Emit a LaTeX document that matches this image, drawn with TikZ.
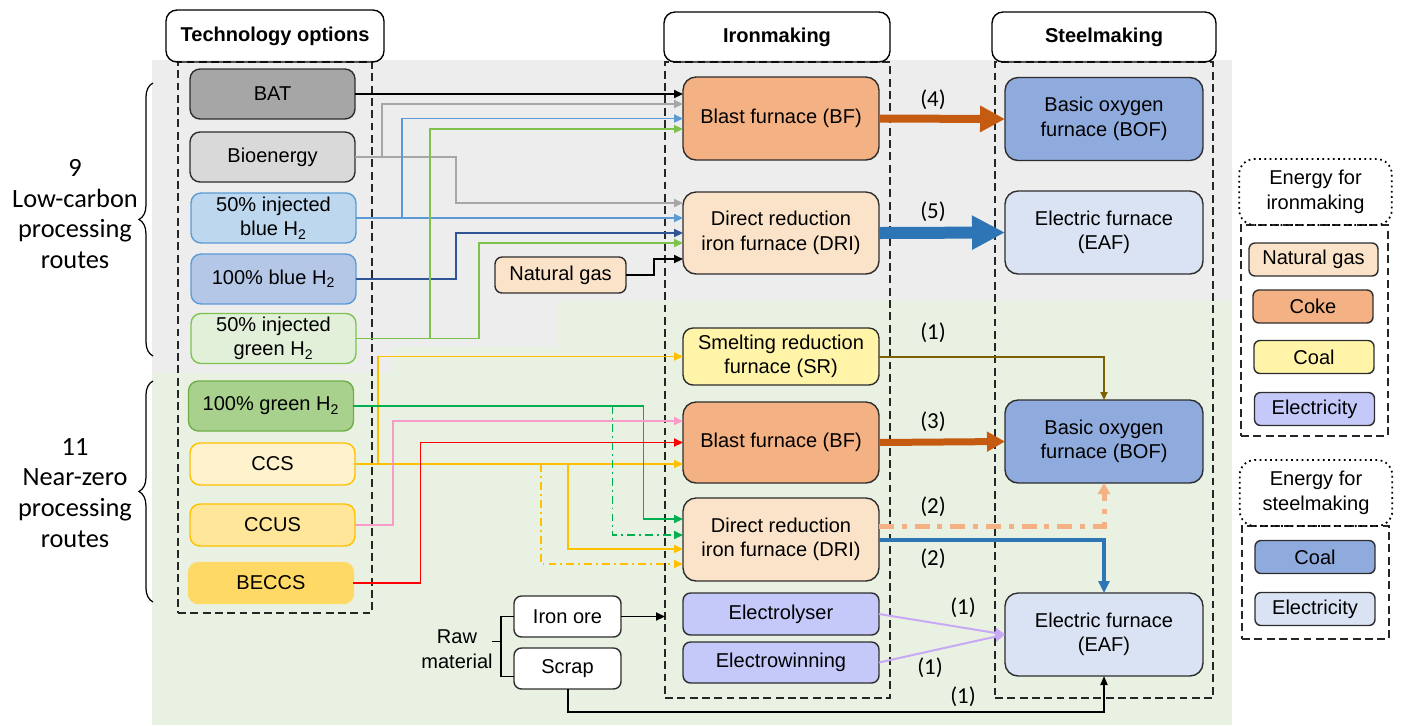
\documentclass[tikz,border=0pt]{standalone}
\usepackage{fontspec}
\setmainfont{Liberation Sans}
\newfontfamily\calib{Carlito}
\usetikzlibrary{calc,arrows.meta,decorations.pathreplacing}
\definecolor{bggray}{RGB}{237,237,237}
\definecolor{bggreen}{RGB}{233,242,226}
\definecolor{cedge}{RGB}{45,45,45}
\definecolor{cbat}{HTML}{A6A6A6}
\definecolor{cbio}{HTML}{D9D9D9}
\definecolor{cblu50}{HTML}{BDD7EE}
\definecolor{cblu100}{HTML}{B4C7E7}
\definecolor{cbluline}{HTML}{5B9BD5}
\definecolor{cgrn50}{HTML}{E2F0D9}
\definecolor{cgrnline}{RGB}{125,195,80}
\definecolor{cgrn100}{HTML}{A9D18E}
\definecolor{cgrnline2}{HTML}{70AD47}
\definecolor{cccs}{HTML}{FFF2CC}
\definecolor{cccus}{HTML}{FFE699}
\definecolor{cbeccs}{HTML}{FFD966}
\definecolor{cbf}{HTML}{F4B183}
\definecolor{cdri}{RGB}{250,227,200}
\definecolor{csr}{RGB}{255,244,168}
\definecolor{celec}{RGB}{196,201,250}
\definecolor{cbof}{HTML}{8FAADC}
\definecolor{ceaf}{HTML}{DAE3F3}
\definecolor{lgray}{HTML}{A6A6A6}
\definecolor{lblue}{HTML}{5B9BD5}
\definecolor{ldblue}{HTML}{2F5597}
\definecolor{lgreen}{RGB}{125,194,75}
\definecolor{lyel}{HTML}{FFC000}
\definecolor{lgrn}{HTML}{00B050}
\definecolor{lpink}{RGB}{249,155,200}
\definecolor{lred}{HTML}{FF0000}
\definecolor{lolive}{HTML}{7F6000}
\definecolor{llav}{RGB}{201,169,245}
\definecolor{abf}{HTML}{C55A11}
\definecolor{ablue}{HTML}{2E75B6}
\definecolor{aorange}{HTML}{F4B183}
\tikzset{
  box/.style={draw=cedge,line width=0.8pt,rounded corners=0.2cm,inner sep=0pt,outer sep=0pt,align=center,font=\fontsize{11.4}{14}\selectfont},
  tech/.style={box,minimum width=3.3cm,minimum height=1cm},
  iron/.style={box,rounded corners=0.26cm,minimum width=3.92cm},
  steel/.style={box,rounded corners=0.26cm,minimum width=3.96cm,minimum height=1.66cm},
  legbox/.style={box,rounded corners=0.12cm,minimum width=2.4cm,minimum height=0.66cm},
  head/.style={draw,line width=0.8pt,rounded corners=0.22cm,inner sep=0pt,minimum height=1cm,font=\bfseries\fontsize{11.4}{14}\selectfont},
  leghead/.style={draw,dotted,line width=1pt,rounded corners=0.3cm,inner sep=0pt,align=center,minimum width=3.05cm,minimum height=1.32cm,font=\fontsize{11.4}{14}\selectfont},
  col/.style={draw=black!85,dash pattern=on 4.5pt off 2.5pt,line width=0.7pt,inner sep=0pt,outer sep=0pt},
  link/.style={line width=1.1pt,-{Triangle[length=1.8mm,width=1.6mm]}},
  dashdot/.style={dash pattern=on 4.5pt off 2.3pt on 1.1pt off 2.3pt},
  num/.style={font=\calib\fontsize{13}{15}\selectfont,inner sep=0pt},
  route/.style={font=\calib\fontsize{15}{17.6}\selectfont,align=center,inner sep=0pt},
  routebrace/.style={decorate,decoration={brace,amplitude=8pt},line width=0.7pt},
}

\begin{document}
\begin{tikzpicture}[x=0.02cm,y=-0.02cm]
\useasboundingbox (0,0) rectangle (1401,725);
\fill[bggreen] (152,300) rectangle (1232,725);
\fill[bggray] (152,60) -- (1232,60) -- (1232,300) -- (558,300) -- (558,347) -- (392,347) -- (392,373) -- (152,373) -- cycle;

\node[col,minimum width=3.88cm,minimum height=11.02cm] (tcol) at (275,337.5) {};
\node[col,minimum width=4.5cm,minimum height=12.72cm] (icol) at (777.5,380) {};
\node[col,minimum width=4.36cm,minimum height=12.72cm] (scol) at (1104,380) {};
\node[col,minimum width=2.94cm,minimum height=4.22cm] (eicol) at (1314.5,330.5) {};
\node[col,minimum width=2.94cm,minimum height=2.26cm] (escol) at (1315.5,582.5) {};

\node[head,minimum width=4.36cm,minimum height=1.04cm] (htech) at (275,36) {Technology options};
\node[head,minimum width=4.52cm] (hiron) at (777,37) {Ironmaking};
\node[head,minimum width=4.48cm] (hsteel) at (1104,37) {Steelmaking};
\node[leghead] (heiron) at (1315.5,192) {Energy for\\ironmaking};
\node[leghead] (hesteel) at (1316,493) {Energy for\\steelmaking};

\node[route] (lowc) at (75,214) {9\\Low-carbon\\processing\\routes};
\node[route] (nearz) at (75,493) {11\\Near-zero\\processing\\routes};
\draw[routebrace] (153,356) -- (153,83);
\draw[routebrace] (153,602) -- (153,381);

\node[tech,fill=cbat] (bat) at (272.5,94) {BAT};
\node[tech,fill=cbio] (bio) at (272.5,157) {Bioenergy};
\node[tech,fill=cblu50,draw=cbluline] (blu50) at (273.5,218) {50\% injected\\blue H\textsubscript{2}};
\node[tech,fill=cblu100,draw=cbluline] (blu100) at (273.5,279) {100\% blue H\textsubscript{2}};
\node[tech,fill=cgrn50,draw=cgrnline] (grn50) at (273.5,338.5) {50\% injected\\green H\textsubscript{2}};
\node[tech,fill=cgrn100,draw=cgrnline2] (grn100) at (271,406) {100\% green H\textsubscript{2}};
\node[tech,fill=cccs,draw=lyel,minimum height=0.84cm] (ccs) at (272.5,464) {CCS};
\node[tech,fill=cccus,draw=lyel,minimum height=0.84cm] (ccus) at (272.5,525) {CCUS};
\node[tech,fill=cbeccs,draw=cbeccs,minimum height=0.82cm] (beccs) at (271,583) {BECCS};

\node[iron,fill=cbf,minimum height=1.66cm] (bft) at (781,118.5) {Blast furnace (BF)};
\node[iron,fill=cdri,minimum height=1.64cm] (drit) at (781,233) {Direct reduction\\iron furnace (DRI)};
\node[iron,fill=csr,minimum height=1.14cm,rounded corners=0.2cm] (sr) at (781,356.5) {Smelting reduction\\furnace (SR)};
\node[iron,fill=cbf,minimum height=1.62cm] (bfb) at (781,442.5) {Blast furnace (BF)};
\node[iron,fill=cdri,minimum height=1.66cm] (drib) at (781,539.5) {Direct reduction\\iron furnace (DRI)};
\node[iron,fill=celec,minimum height=0.84cm,rounded corners=0.15cm] (elys) at (781,614) {Electrolyser};
\node[iron,fill=celec,minimum height=0.82cm,rounded corners=0.15cm] (ewin) at (781,662.5) {Electrowinning};

\node[steel,fill=cbof] (boft) at (1104,119) {Basic oxygen\\furnace (BOF)};
\node[steel,fill=ceaf] (eaft) at (1104,232.5) {Electric furnace\\(EAF)};
\node[steel,fill=cbof] (bofb) at (1104,441.5) {Basic oxygen\\furnace (BOF)};
\node[steel,fill=ceaf] (eafb) at (1104,634.5) {Electric furnace\\(EAF)};

\node[legbox,fill=cdri,minimum width=2.58cm] (lng) at (1313.5,259.5) {Natural gas};
\node[legbox,fill=cbf] (lcoke) at (1313,306.5) {Coke};
\node[legbox,fill=csr] (lcoal) at (1314,357) {Coal};
\node[legbox,fill=celec] (lelec) at (1314.5,409) {Electricity};
\node[legbox,fill=cbof] (scoal) at (1315,557) {Coal};
\node[legbox,fill=ceaf] (selec) at (1315,609) {Electricity};

\node[box,fill=cdri,minimum width=2.62cm,minimum height=0.72cm,rounded corners=0.14cm] (ng) at (560.5,275) {Natural gas};
\node[box,fill=white,minimum width=2.14cm,minimum height=0.82cm,rounded corners=0.15cm] (ore) at (567.5,616.5) {Iron ore};
\node[box,fill=white,minimum width=2.14cm,minimum height=0.82cm,rounded corners=0.15cm] (scrap) at (567.5,668.5) {Scrap};
\node[box,draw=none] (raw) at (457,649) {Raw\\material};
\draw[line width=0.8pt] ($(ore.west)+(-13,25)$) -- ++(-9,0);
\draw[line width=0.8pt] (ore.west) -- ++(-13,0) |- ($(scrap.west)+(0,8)$);

\draw[link] (bat.east) -- (bat.east -| bft.west);
\draw[link,lgray] (bio.east) -- ++(27,0) |- ($(bft.west)+(0,-14.5)$);
\draw[link,lgray] (bio.east) -- ++(101,0) |- ($(drit.west)+(0,-30)$);
\draw[link,lblue] (blu50.east) -- ++(46,0) |- (bft.west);
\draw[link,lblue] (blu50.east) -- (blu50.east -| drit.west);
\draw[link,ldblue] (blu100.east) -- ++(100,0) |- (drit.west);
\draw[link,lgreen] (grn50.east) -- ++(74,0) |- ($(bft.west)+(0,10.5)$);
\draw[link,lgreen] (grn50.east) -- ++(123,0) |- ($(drit.west)+(0,10)$);
\draw[link] (ng.east) -- ++(28,0) |- ($(drit.west)+(0,26)$);

\draw[link,lyel] (ccs.east) -- ++(23,0) |- (sr.west);
\draw[link,lyel] (ccs.east) -- (ccs.east -| bfb.west);
\draw[link,lyel] (ccs.east) -- ++(213,0) |- ($(drib.west)+(0,9.5)$);
\draw[link,lyel,dashdot] ($(ccs.east)+(186,0)$) |- ($(drib.west)+(0,24.5)$);
\draw[link,lgrn] (grn100.east) -- ++(290,0) |- ($(drib.west)+(0,-20.5)$);
\draw[link,lgrn,dashdot] ($(grn100.east)+(259,0)$) |- ($(drib.west)+(0,-4.5)$);
\draw[link,lpink] (ccus.east) -- ++(38,0) |- ($(bfb.west)+(0,-21.5)$);
\draw[link,lred] (beccs.east) -- ++(67,0) |- (bfb.west);
\draw[link] (ore.east) -- (ore.east -| icol.west);

\draw[abf,line width=0.16cm,-{Triangle[length=0.5cm,width=0.5cm]}] (bft.east) -- (boft.west);
\draw[ablue,line width=0.24cm,-{Triangle[length=0.66cm,width=0.64cm]}] (drit.east) -- (eaft.west);
\draw[lolive,line width=0.04cm,-{Triangle[length=0.16cm,width=0.14cm]}] (sr.east) -| (bofb.north);
\draw[abf,line width=0.14cm,-{Triangle[length=0.36cm,width=0.38cm]}] (bfb.east) -- (bofb.west);
\draw[aorange,line width=0.1cm,dash pattern=on 8.5pt off 4.5pt on 2.8pt off 4.5pt,-{Triangle[length=0.22cm,width=0.24cm]}] ($(drib.east)+(0,-13.5)$) -| (bofb.south);
\draw[ablue,line width=0.08cm,-{Triangle[length=0.24cm,width=0.22cm]}] (drib.east) -| (eafb.north);
\draw[llav,line width=0.04cm,-{Triangle[length=0.2cm,width=0.2cm]}] (elys.east) -- (eafb.west);
\draw[llav,line width=0.04cm,-{Triangle[length=0.2cm,width=0.2cm]}] (ewin.east) -- (eafb.west);
\draw[line width=0.04cm,-{Triangle[length=0.18cm,width=0.14cm]}] (scrap.south) -- ++(0,23) -| (eafb.south);

\node[num] (n4) at (933,100) {(4)};
\node[num] (n5) at (933,212) {(5)};
\node[num] (n1sr) at (933,333) {(1)};
\node[num] (n3) at (933,422) {(3)};
\node[num] (n2bof) at (933,507) {(2)};
\node[num] (n2eaf) at (933,559) {(2)};
\node[num] (n1ely) at (963,608) {(1)};
\node[num] (n1ewn) at (930,668) {(1)};
\node[num] (n1scr) at (963,697) {(1)};
\end{tikzpicture}
\end{document}
